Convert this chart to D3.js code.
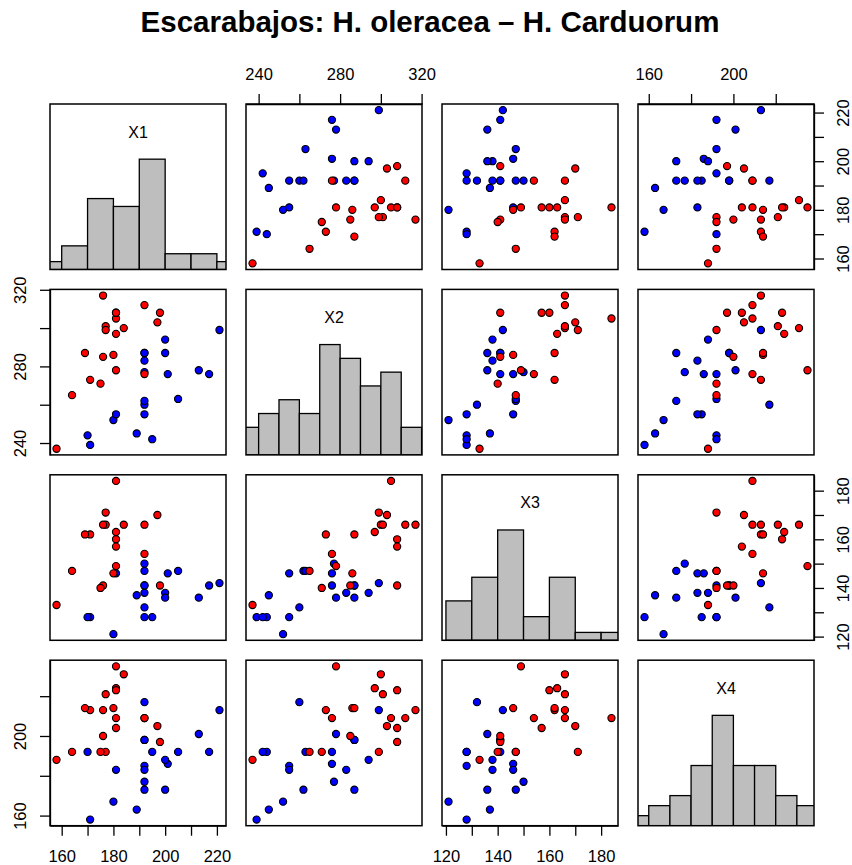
<!DOCTYPE html>
<html lang="es">
<head>
<meta charset="utf-8">
<title>Escarabajos: H. oleracea – H. Carduorum</title>
<script src="https://cdnjs.cloudflare.com/ajax/libs/d3/7.8.5/d3.min.js"></script>
<style>
    body { margin: 0; background: #fff; }
    svg { display: block; font-family: "Liberation Sans", Arial, Helvetica, sans-serif; }
    .tick text { font-size: 16.5px; fill: #000; }
    .tick line { stroke: #000; stroke-width: 1.3; }
    .domain { stroke: #000; stroke-width: 1.3; }
</style>
</head>
<body>
<svg id="chart"></svg>
<script>
    // Lubischew flea beetles, two species (the last oleracea row is listed twice in the source)
    const varNames = ['X1', 'X2', 'X3', 'X4'];

    const oleraceaX1 = [189, 192, 217, 221, 171, 192, 213, 192, 170, 201, 195, 205, 180, 192, 200, 192, 200, 181, 192, 192];
    const oleraceaX2 = [245, 260, 276, 299, 239, 262, 278, 255, 244, 276, 242, 263, 252, 283, 294, 277, 287, 255, 287, 287];
    const oleraceaX3 = [137, 132, 141, 142, 128, 147, 136, 128, 128, 146, 128, 147, 121, 138, 138, 150, 136, 146, 141, 141];
    const oleraceaX4 = [163, 217, 192, 213, 158, 173, 201, 185, 192, 186, 192, 192, 167, 183, 188, 177, 173, 183, 198, 198];

    const carduorumX1 = [181, 158, 184, 171, 181, 181, 177, 198, 180, 177, 176, 192, 176, 169, 164, 181, 192, 181, 175, 197];
    const carduorumX2 = [305, 237, 300, 273, 297, 308, 301, 308, 286, 299, 317, 312, 285, 287, 265, 308, 276, 278, 271, 303];
    const carduorumX3 = [184, 133, 166, 162, 163, 160, 166, 141, 146, 171, 166, 166, 141, 162, 147, 157, 154, 149, 140, 170];
    const carduorumX4 = [209, 188, 231, 213, 224, 223, 221, 197, 214, 192, 213, 209, 200, 214, 192, 204, 209, 235, 192, 205];

    // axis ticks; only every other one gets a label (R drops the overlapping ones)
    const x1Ticks = [160, 170, 180, 190, 200, 210, 220];
    const x2Ticks = [240, 260, 280, 300, 320];
    const x3Ticks = [120, 130, 140, 150, 160, 170, 180];
    const x4Ticks = [160, 180, 200, 220];

    const width = 852;
    const height = 865;
    const marginLeft = 50, marginTop = 104;
    const panelW = 176, panelH = 165.5;
    const stepX = 196, stepY = 185.4;

    const oleracea = [oleraceaX1, oleraceaX2, oleraceaX3, oleraceaX4];
    const carduorum = [carduorumX1, carduorumX2, carduorumX3, carduorumX4];
    const tickSets = [x1Ticks, x2Ticks, x3Ticks, x4Ticks];
    const allVals = varNames.map((_, k) => oleracea[k].concat(carduorum[k]));

    const colX = d3.range(4).map(k => marginLeft + k * stepX);
    const rowY = d3.range(4).map(k => marginTop + k * stepY);

    function paddedDomain(vals) {
        const [lo, hi] = d3.extent(vals);
        const pad = (hi - lo) * 0.04;
        return [lo - pad, hi + pad];
    }

    const sx = allVals.map((v, k) => d3.scaleLinear().domain(paddedDomain(v)).range([colX[k], colX[k] + panelW]));
    const sy = allVals.map((v, k) => d3.scaleLinear().domain(paddedDomain(v)).range([rowY[k] + panelH, rowY[k]]));

    const svg = d3.select('#chart')
        .attr('width', width)
        .attr('height', height);

    svg.append('text')
        .attr('x', 430)
        .attr('y', 31.5)
        .attr('text-anchor', 'middle')
        .style('font-size', '29.5px')
        .style('font-weight', 'bold')
        .text('Escarabajos: H. oleracea – H. Carduorum');

    const defs = svg.append('defs');

    // histogram with right-closed bins, like hist()
    function histogram(vals) {
        const [lo0, hi0] = d3.extent(vals);
        const step = d3.tickStep(lo0, hi0, 7);
        const lo = Math.floor(lo0 / step) * step;
        const hi = Math.ceil(hi0 / step) * step;
        const n = Math.round((hi - lo) / step);
        const counts = new Array(n).fill(0);
        vals.forEach(v => {
            const b = Math.max(0, Math.ceil((v - lo) / step) - 1);
            counts[b]++;
        });
        return counts.map((c, b) => ({ x0: lo + b * step, x1: lo + (b + 1) * step, count: c }));
    }

    for (let i = 0; i < 4; i++) {
        for (let j = 0; j < 4; j++) {
            const clipId = `clip-${i}-${j}`;
            defs.append('clipPath').attr('id', clipId)
                .append('rect')
                .attr('x', colX[j]).attr('y', rowY[i])
                .attr('width', panelW).attr('height', panelH);

            const g = svg.append('g');
            const inner = g.append('g').attr('clip-path', `url(#${clipId})`);

            if (i === j) {
                const bins = histogram(allVals[i]);
                const maxC = d3.max(bins, d => d.count);
                const hy = d3.scaleLinear().domain([0, 1.5]).range([rowY[i] + panelH, rowY[i]]);
                inner.selectAll('rect')
                    .data(bins)
                    .join('rect')
                    .attr('x', d => sx[j](d.x0))
                    .attr('width', d => sx[j](d.x1) - sx[j](d.x0))
                    .attr('y', d => hy(d.count / maxC))
                    .attr('height', d => hy(0) - hy(d.count / maxC))
                    .attr('fill', '#bebebe')
                    .attr('stroke', '#000')
                    .attr('stroke-width', 1.3);

                g.append('text')
                    .attr('x', colX[j] + panelW / 2)
                    .attr('y', rowY[i] + 28)
                    .attr('dy', '0.35em')
                    .attr('text-anchor', 'middle')
                    .style('font-size', '16px')
                    .text(varNames[i]);
            } else {
                const groups = [
                    { xs: oleracea[j], ys: oleracea[i], color: '#0000ff' },
                    { xs: carduorum[j], ys: carduorum[i], color: '#ff0000' }
                ];
                groups.forEach(grp => {
                    inner.append('g')
                        .selectAll('circle')
                        .data(grp.xs.map((x, n) => [x, grp.ys[n]]))
                        .join('circle')
                        .attr('cx', d => sx[j](d[0]))
                        .attr('cy', d => sy[i](d[1]))
                        .attr('r', 3.6)
                        .attr('fill', grp.color)
                        .attr('stroke', '#000')
                        .attr('stroke-width', 1.1);
                });
            }

            g.append('rect')
                .attr('x', colX[j]).attr('y', rowY[i])
                .attr('width', panelW).attr('height', panelH)
                .attr('fill', 'none')
                .attr('stroke', '#000')
                .attr('stroke-width', 1.5);
        }
    }

    function labelFmt(ticks) {
        return v => (ticks.indexOf(v) % 2 === 0 ? String(v) : '');
    }

    const off = 29.5;

    // top axes: X2, X4
    [1, 3].forEach(j => {
        svg.append('g')
            .attr('transform', `translate(0,${rowY[0]})`)
            .call(d3.axisTop(sx[j]).tickValues(tickSets[j]).tickSize(10).tickSizeOuter(0).tickFormat(labelFmt(tickSets[j])))
            .call(a => a.selectAll('text').attr('y', -off).attr('dy', '0.35em'))
            .attr('font-family', null).attr('font-size', null);
    });

    // bottom axes: X1, X3
    [0, 2].forEach(j => {
        svg.append('g')
            .attr('transform', `translate(0,${rowY[3] + panelH})`)
            .call(d3.axisBottom(sx[j]).tickValues(tickSets[j]).tickSize(10).tickSizeOuter(0).tickFormat(labelFmt(tickSets[j])))
            .call(a => a.selectAll('text').attr('y', off + 1).attr('dy', '0.35em'))
            .attr('font-family', null).attr('font-size', null);
    });

    // left axes: X2, X4
    [1, 3].forEach(i => {
        svg.append('g')
            .attr('transform', `translate(${colX[0]},0)`)
            .call(d3.axisLeft(sy[i]).tickValues(tickSets[i]).tickSize(10).tickSizeOuter(0).tickFormat(labelFmt(tickSets[i])))
            .call(a => a.selectAll('text')
                .attr('x', 0).attr('y', 0).attr('dy', '0.35em')
                .attr('text-anchor', 'middle')
                .attr('transform', `translate(${-off},0) rotate(-90)`))
            .attr('font-family', null).attr('font-size', null);
    });

    // right axes: X1, X3
    [0, 2].forEach(i => {
        svg.append('g')
            .attr('transform', `translate(${colX[3] + panelW},0)`)
            .call(d3.axisRight(sy[i]).tickValues(tickSets[i]).tickSize(10).tickSizeOuter(0).tickFormat(labelFmt(tickSets[i])))
            .call(a => a.selectAll('text')
                .attr('x', 0).attr('y', 0).attr('dy', '0.35em')
                .attr('text-anchor', 'middle')
                .attr('transform', `translate(${off},0) rotate(-90)`))
            .attr('font-family', null).attr('font-size', null);
    });
</script>
</body>
</html>
